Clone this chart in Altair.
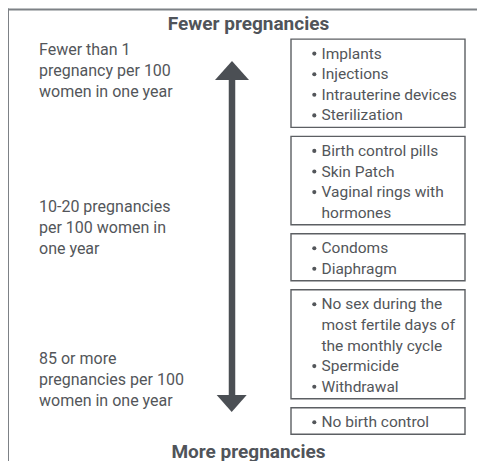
import altair as alt
import pandas as pd

# ---------------- data ----------------
top_title = "Fewer pregnancies"
bottom_title = "More pregnancies"

rate_labels = [
    ["Fewer than 1", "pregnancy per 100", "women in one year"],
    ["10-20 pregnancies", "per 100 women in", "one year"],
    ["85 or more", "pregnancies per 100", "women in one year"],
]

method_groups = [
    [["Implants"], ["Injections"], ["Intrauterine devices"], ["Sterilization"]],
    [["Birth control pills"], ["Skin Patch"], ["Vaginal rings with", "hormones"]],
    [["Condoms"], ["Diaphragm"]],
    [["No sex during the", "most fertile days of", "the monthly cycle"], ["Spermicide"], ["Withdrawal"]],
    [["No birth control"]],
]

# ---------------- layout (page pixel units) ----------------
W, H = 469, 453
FONT = "Roboto, Liberation Sans, Arial, sans-serif"
TEXT_COL = "#53565a"
TITLE_COL = "#50545a"
LINE_COL = "#5c5f63"
FRAME_COL = "#7d8186"
ARROW_COL = "#4b4f54"

FS_BOX = 15.5
FS_LEFT = 16
LINE = 20.6
BOX_X0, BOX_X1 = 291, 465
BULLET_X, TEXT_X = 314.3, 321.5
BULLET_DY = 5.0
FIRST_BASE = 58.6
TOP_OFF, BOT_OFF, BOX_GAP = 19.5, 7.0, 9.0

LEFT_X = 39
LEFT_STEP = 21
left_first = [55, 212.3, 364.3]

ARROW_X = 232
TITLE_X = 248.5

xs = alt.Scale(domain=[8, 8 + W], range=[0, W], nice=False, zero=False)
ys = alt.Scale(domain=[8, 8 + H], range=[0, H], nice=False, zero=False)

# build method boxes & lines
box_rows, line_rows, bullet_rows = [], [], []
base = FIRST_BASE
for gi, grp in enumerate(method_groups):
    top = base - TOP_OFF
    for item in grp:
        bullet_rows.append({"x": BULLET_X, "y": base - BULLET_DY})
        for li, ln in enumerate(item):
            line_rows.append({"x": TEXT_X, "y": base, "t": ln})
            base += LINE
    last = base - LINE
    bottom = last + BOT_OFF
    box_rows.append({"x": BOX_X0, "x2": BOX_X1, "y": top, "y2": bottom})
    base = bottom + BOX_GAP + TOP_OFF

left_rows = []
for gi, grp in enumerate(rate_labels):
    for li, ln in enumerate(grp):
        left_rows.append({"x": LEFT_X, "y": left_first[gi] + li * LEFT_STEP, "t": ln})

title_rows = [
    {"x": TITLE_X, "y": 29.5, "t": top_title},
    {"x": TITLE_X, "y": 458, "t": bottom_title},
]

frame_rows = [
    {"x": 7, "x2": 520, "y": 9.5, "y2": 9.5},
    {"x": 8, "x2": 8, "y": 8.5, "y2": 520},
]

shaft_rows = [{"x": ARROW_X, "y": 78, "y2": 397}]
head_up = [{"x": ARROW_X, "y": 70.5}]
head_down = [{"x": 231.7, "y": 403.6}]


def X(f="x"):
    return alt.X(f"{f}:Q", scale=xs, axis=None)


def Y(f="y"):
    return alt.Y(f"{f}:Q", scale=ys, axis=None)


frame = alt.Chart(pd.DataFrame(frame_rows)).mark_rule(
    color=FRAME_COL, strokeWidth=2
).encode(x=X(), x2="x2:Q", y=Y(), y2="y2:Q")

boxes = alt.Chart(pd.DataFrame(box_rows)).mark_rect(
    fill="white", fillOpacity=0, stroke=LINE_COL, strokeWidth=1.4
).encode(x=X(), x2="x2:Q", y=Y(), y2="y2:Q")

shaft = alt.Chart(pd.DataFrame(shaft_rows)).mark_rule(
    color=ARROW_COL, strokeWidth=6.5
).encode(x=X(), y=Y(), y2="y2:Q")

up = alt.Chart(pd.DataFrame(head_up)).mark_point(
    shape="M0,-0.56L1,0.56L-1,0.56Z", size=34 * 34, filled=True,
    fill=ARROW_COL, opacity=1, strokeWidth=0
).encode(x=X(), y=Y())

down = alt.Chart(pd.DataFrame(head_down)).mark_point(
    shape="M-1,-0.567L1,-0.567L0,0.567Z", size=30 * 30, filled=True,
    fill=ARROW_COL, opacity=1, strokeWidth=0
).encode(x=X(), y=Y())

bullets = alt.Chart(pd.DataFrame(bullet_rows)).mark_point(
    shape="circle", size=17, filled=True, fill=TEXT_COL, opacity=1, strokeWidth=0
).encode(x=X(), y=Y())

left_text = alt.Chart(pd.DataFrame(left_rows)).mark_text(
    align="left", baseline="alphabetic", font=FONT, fontSize=FS_LEFT, color=TEXT_COL
).encode(x=X(), y=Y(), text="t:N")

method_text = alt.Chart(pd.DataFrame(line_rows)).mark_text(
    align="left", baseline="alphabetic", font=FONT, fontSize=FS_BOX, color=TEXT_COL
).encode(x=X(), y=Y(), text="t:N")

titles = alt.Chart(pd.DataFrame(title_rows)).mark_text(
    align="center", baseline="alphabetic", font=FONT, fontSize=19,
    fontWeight="bold", color=TITLE_COL
).encode(x=X(), y=Y(), text="t:N")

chart = alt.layer(
    frame, boxes, shaft, up, down, bullets, left_text, method_text, titles
).properties(
    width=W, height=H, padding=0, autosize=alt.AutoSizeParams(type="none"),
    background="white"
).configure_view(stroke=None)

chart.save("out.html", embed_options={"renderer": "svg", "actions": False})
